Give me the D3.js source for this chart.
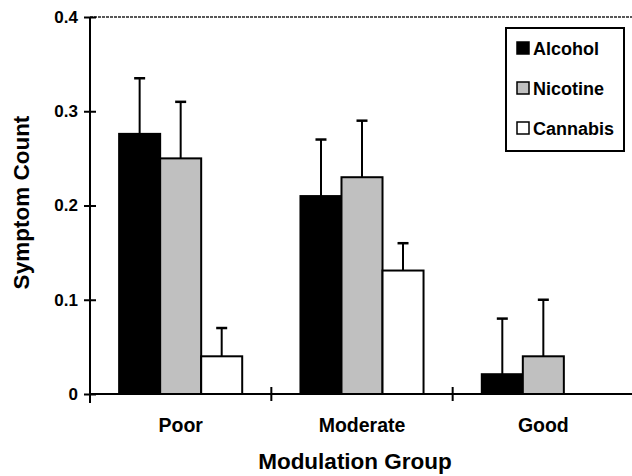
<!DOCTYPE html>
<html>
<head>
<meta charset="utf-8">
<script src="https://cdn.jsdelivr.net/npm/d3@7"></script>
<style>
  html, body { margin: 0; padding: 0; background: #fff; }
  svg { display: block; font-family: Arial, "Liberation Sans", Helvetica, sans-serif; font-weight: bold; }
</style>
</head>
<body>
<svg id="chart" width="632" height="476"></svg>
<script>
const categories = ["Poor", "Moderate", "Good"];
const series = ["Alcohol", "Nicotine", "Cannabis"];
const alcoholValues = [0.276, 0.21, 0.021];
const nicotineValues = [0.25, 0.23, 0.04];
const cannabisValues = [0.04, 0.131, 0];
const alcoholErrors = [0.335, 0.27, 0.08];
const nicotineErrors = [0.31, 0.29, 0.10];
const cannabisErrors = [0.07, 0.16, null];
const yTicks = [0, 0.1, 0.2, 0.3, 0.4];
const seriesColors = ["#000000", "#c0c0c0", "#ffffff"];

const values = [alcoholValues, nicotineValues, cannabisValues];
const errors = [alcoholErrors, nicotineErrors, cannabisErrors];

const svg = d3.select("#chart");
const x0 = d3.scaleBand().domain(categories).range([90, 634]).paddingInner(0).paddingOuter(0);
const x1 = d3.scaleBand().domain(series).range([0, x0.bandwidth()]).paddingInner(0).paddingOuter(0.71);
const y = d3.scaleLinear().domain([0, 0.4]).range([394, 17]);
const color = d3.scaleOrdinal().domain(series).range(seriesColors);

// top border of plot area
svg.append("line")
  .attr("x1", 90).attr("x2", 632).attr("y1", y(0.4)).attr("y2", y(0.4))
  .attr("stroke", "#222").attr("stroke-width", 1.5).attr("stroke-dasharray", "3,1");

// bars
const data = [];
categories.forEach((c, ci) => series.forEach((s, si) => {
  data.push({ c, s, v: values[si][ci], e: errors[si][ci] });
}));

const g = svg.append("g");
g.selectAll("rect.bar").data(data.filter(d => d.v > 0)).join("rect")
  .attr("class", "bar")
  .attr("x", d => x0(d.c) + x1(d.s))
  .attr("y", d => y(d.v))
  .attr("width", x1.bandwidth())
  .attr("height", d => y(0) - y(d.v))
  .attr("fill", d => color(d.s))
  .attr("stroke", "#000").attr("stroke-width", 2);

// error bars (upper only)
const eb = data.filter(d => d.e != null && d.v > 0);
g.selectAll("line.err").data(eb).join("line")
  .attr("class", "err")
  .attr("x1", d => x0(d.c) + x1(d.s) + x1.bandwidth() / 2)
  .attr("x2", d => x0(d.c) + x1(d.s) + x1.bandwidth() / 2)
  .attr("y1", d => y(d.v))
  .attr("y2", d => y(d.e))
  .attr("stroke", "#000").attr("stroke-width", 2);
g.selectAll("line.cap").data(eb).join("line")
  .attr("class", "cap")
  .attr("x1", d => x0(d.c) + x1(d.s) + x1.bandwidth() / 2 - 5.5)
  .attr("x2", d => x0(d.c) + x1(d.s) + x1.bandwidth() / 2 + 5.5)
  .attr("y1", d => y(d.e))
  .attr("y2", d => y(d.e))
  .attr("stroke", "#000").attr("stroke-width", 2.5);

// y axis
const yAxis = svg.append("g").attr("transform", "translate(90,0)")
  .call(d3.axisLeft(y).tickValues(yTicks).tickSizeOuter(0).tickSizeInner(6).tickPadding(6)
    .tickFormat(d => d === 0 ? "0" : d3.format(".1f")(d)));
yAxis.select(".domain").attr("stroke-width", 2).attr("d", `M0,${y(0.4)}V${y(0) + 9}`);
yAxis.selectAll(".tick line").attr("x1", 6).attr("x2", -6).attr("stroke-width", 2);
yAxis.selectAll(".tick text").attr("font-size", 17).attr("font-weight", "bold").attr("font-family", "Arial, 'Liberation Sans', sans-serif").attr("fill", "#000");

// x axis
const xAxis = svg.append("g").attr("transform", `translate(0,${y(0)})`)
  .call(d3.axisBottom(x0).tickSize(0).tickPadding(24));
xAxis.select(".domain").attr("stroke-width", 2).attr("d", "M90,0H632");
xAxis.selectAll(".tick text").attr("font-size", 19.5).attr("font-weight", "bold").attr("font-family", "Arial, 'Liberation Sans', sans-serif").attr("fill", "#000");
xAxis.selectAll("line.bound").data(categories.slice(1)).join("line")
  .attr("class", "bound")
  .attr("x1", d => x0(d)).attr("x2", d => x0(d))
  .attr("y1", -7).attr("y2", 7)
  .attr("stroke", "#000").attr("stroke-width", 2);

// axis titles
svg.append("text")
  .attr("transform", `translate(29,${(y(0) + y(0.4)) / 2 - 3}) rotate(-90)`)
  .attr("text-anchor", "middle")
  .attr("font-size", 22.5)
  .text("Symptom Count");
svg.append("text")
  .attr("x", 355).attr("y", 469)
  .attr("text-anchor", "middle")
  .attr("font-size", 22.5)
  .text("Modulation Group");

// legend
const lg = svg.append("g");
lg.append("rect").attr("x", 506).attr("y", 28).attr("width", 118).attr("height", 123)
  .attr("fill", "#fff").attr("stroke", "#000").attr("stroke-width", 2);
const rowY = d3.scalePoint().domain(series).range([48, 128]);
const items = lg.selectAll("g.item").data(series).join("g").attr("class", "item")
  .attr("transform", d => `translate(517,${rowY(d)})`);
items.append("rect").attr("x", 0).attr("y", -6).attr("width", 12).attr("height", 12)
  .attr("fill", d => color(d)).attr("stroke", "#000").attr("stroke-width", 1.5);
items.append("text").attr("x", 16).attr("y", 6.5).attr("font-size", 18).text(d => d);
</script>
</body>
</html>
